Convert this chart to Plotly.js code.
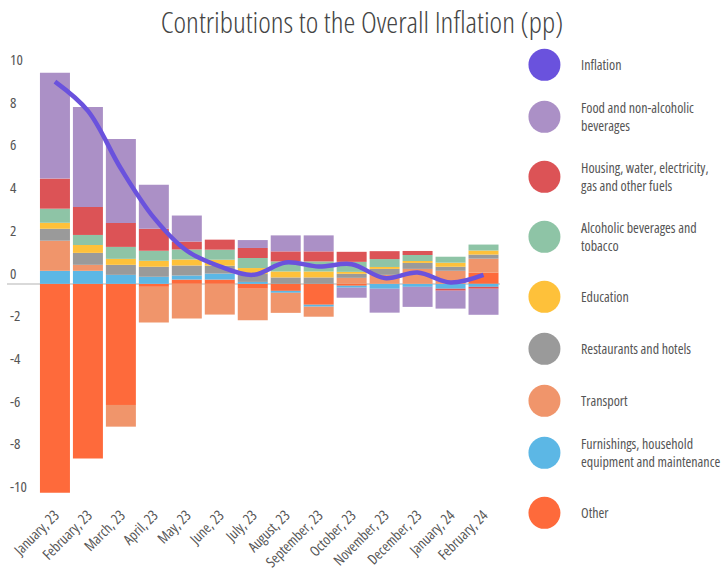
<!DOCTYPE html>
<html>
<head>
<meta charset="utf-8">
<script src="https://cdn.plot.ly/plotly-3.0.1.min.js"></script>
<style>
html, body { margin: 0; padding: 0; background: #fff; }
#chart { width: 724px; height: 571px; }
</style>
<style id="stretchStyle"></style>
</head>
<body>
<div id="chart"></div>
<script>
var categories = ["January, 23", "February, 23", "March, 23", "April, 23", "May, 23", "June, 23", "July, 23",
  "August, 23", "September, 23", "October, 23", "November, 23", "December, 23", "January, 24", "February, 24"];

var other       = [-9.78, -8.18, -5.67, -0.14, 0.20, 0.20, -0.23, -0.33, -0.98, -0.09, 0, 0, 0, 0.52];
var furnishings = [0.61, 0.61, 0.42, 0.33, 0.19, 0.28, 0.09, -0.09, -0.09, -0.09, -0.23, -0.14, -0.23, -0.14];
var transport   = [1.41, 0.28, -1.02, -1.67, -1.62, -1.44, -1.48, -0.94, -0.47, 0.28, 0.42, 0.70, 0.61, 0.66];
var restaurants = [0.56, 0.56, 0.47, 0.47, 0.47, 0.37, 0.37, 0.30, 0.30, 0.19, 0.28, 0.28, 0.19, 0.19];
var education   = [0.28, 0.37, 0.28, 0.28, 0.28, 0.28, 0.28, 0.28, 0.28, 0.09, 0.09, 0.09, 0.19, 0.19];
var alcoholic   = [0.66, 0.47, 0.56, 0.47, 0.47, 0.47, 0.47, 0.47, 0.47, 0.47, 0.37, 0.28, 0.28, 0.28];
var housing     = [1.41, 1.31, 1.12, 1.03, 0.37, 0.47, 0.47, 0.47, 0.47, 0.47, 0.37, 0.19, -0.09, -0.09];
var food        = [4.96, 4.68, 3.93, 2.06, 1.22, 0, 0.37, 0.75, 0.75, -0.47, -1.12, -0.94, -0.84, -1.22];
var inflation   = [9.47, 8.10, 5.40, 3.10, 1.55, 0.82, 0.42, 1.00, 0.81, 0.92, 0.27, 0.53, 0.06, 0.42];

var yTicks = [-10, -8, -6, -4, -2, 0, 2, 4, 6, 8, 10];

var seriesNames = ["Other", "Furnishings, household equipment and maintenance", "Transport",
  "Restaurants and hotels", "Education", "Alcoholic beverages and tobacco",
  "Housing, water, electricity, gas and other fuels", "Food and non-alcoholic beverages"];
var seriesData = [other, furnishings, transport, restaurants, education, alcoholic, housing, food];
var seriesColors = ["#fe6a3b", "#5cb7e5", "#f0956b", "#9a9a9a", "#fec13a", "#8ec4a6", "#dc5356", "#ab90c6"];
var inflationColor = "#6a52dd";

var legendLabels = ["Inflation", "Food and non-alcoholic<br>beverages", "Housing, water, electricity,<br>gas and other fuels",
  "Alcoholic beverages and<br>tobacco", "Education", "Restaurants and hotels", "Transport",
  "Furnishings, household<br>equipment and maintenance", "Other"];
var legendColors = [inflationColor, "#ab90c6", "#dc5356", "#8ec4a6", "#fec13a", "#9a9a9a", "#f0956b", "#5cb7e5", "#fe6a3b"];

// ---- pick a condensed font that is really available ----
var cv = document.createElement("canvas").getContext("2d");
var sample = "Restaurants and hotels, Contributions";
function measure(fam, stretch) {
  cv.font = "20px " + fam;
  try { cv.fontStretch = stretch || "normal"; } catch (e) {}
  return cv.measureText(sample).width;
}
function exists(fam) {
  return measure("'" + fam + "', monospace") !== measure("monospace") ||
         measure("'" + fam + "', serif") !== measure("serif");
}
var FONT = "'Roboto', sans-serif";
var STRETCH = null;
var candidates = [
  { fam: "Open Sans", stretch: "condensed" },
  { fam: "Noto Sans", stretch: "condensed" }
];
for (var c = 0; c < candidates.length && !STRETCH; c++) {
  var cf = "'" + candidates[c].fam + "'";
  if (exists(candidates[c].fam)) {
    var wN = measure(cf, "normal"), wC = measure(cf, candidates[c].stretch);
    if (wC < wN * 0.93) { FONT = cf + ", sans-serif"; STRETCH = candidates[c].stretch; }
  }
}
if (!STRETCH) {
  var named = ["Liberation Sans Narrow", "DejaVu Sans Condensed", "Roboto Condensed"];
  for (var n = 0; n < named.length; n++) {
    if (exists(named[n])) { FONT = "'" + named[n] + "', sans-serif"; break; }
  }
} else {
  document.getElementById("stretchStyle").textContent =
    "svg text { font-stretch: " + STRETCH + " !important; }";
}

var W = 724, H = 571;
var L = 7, R = 223.5, T = 49.15, B = 62.85;
var plotW = W - L - R, plotH = H - T - B;
function px(x) { return (x - L) / plotW; }
function py(y) { return (H - B - y) / plotH; }

var traces = [];
for (var i = 0; i < seriesData.length; i++) {
  traces.push({
    type: "bar", x: categories, y: seriesData[i], name: seriesNames[i],
    marker: { color: seriesColors[i], line: { width: 0 } }, showlegend: false
  });
}
traces.push({
  type: "scatter", mode: "lines", x: categories, y: inflation, name: "Inflation",
  line: { color: inflationColor, width: 4.5, shape: "spline", smoothing: 1 }, showlegend: false
});

var legendY = [65, 117, 177, 237, 297, 349, 401, 453, 513];
var shapes = [];
var annotations = [];
for (var k = 0; k < legendLabels.length; k++) {
  shapes.push({
    type: "circle", xref: "paper", yref: "paper", xsizemode: "pixel", ysizemode: "pixel",
    xanchor: px(545), yanchor: py(legendY[k]), x0: -16, x1: 16, y0: -16, y1: 16,
    fillcolor: legendColors[k], line: { width: 0 }
  });
  annotations.push({
    xref: "paper", yref: "paper", x: px(579.5), y: py(legendY[k]), xanchor: "left", yanchor: "middle",
    align: "left", showarrow: false, text: legendLabels[k],
    font: { family: FONT, size: 14, color: "#555" }
  });
}

var layout = {
  width: W, height: H,
  margin: { l: L, r: R, t: T, b: B, pad: 0 },
  paper_bgcolor: "#fff", plot_bgcolor: "#fff",
  barmode: "relative", bargap: 0.09,
  font: { family: FONT, size: 14, color: "#555" },
  title: { text: "Contributions to the Overall Inflation (pp)", x: 0.5, xref: "container", y: 0.961, yanchor: "middle",
    font: { family: FONT, size: 30, color: "#444", weight: 350 } },
  xaxis: {
    type: "category", range: [-1.4545, 13.5], tickangle: -45, showgrid: false, zeroline: false,
    showline: false, ticks: "", automargin: false, ticklabelstandoff: -5,
    tickfont: { family: FONT, size: 14.5, color: "#555" }
  },
  yaxis: {
    range: [-10.5, 11.0], tickvals: yTicks, ticktext: yTicks.map(String), showgrid: false,
    zeroline: true, zerolinecolor: "#d9d9d9", zerolinewidth: 2.5, showline: false, ticks: "",
    ticklabelposition: "inside top", automargin: false,
    tickfont: { family: FONT, size: 15, color: "#555" }
  },
  showlegend: false,
  shapes: shapes,
  annotations: annotations
};

Plotly.newPlot("chart", traces, layout, { staticPlot: true, displayModeBar: false });
</script>
</body>
</html>
